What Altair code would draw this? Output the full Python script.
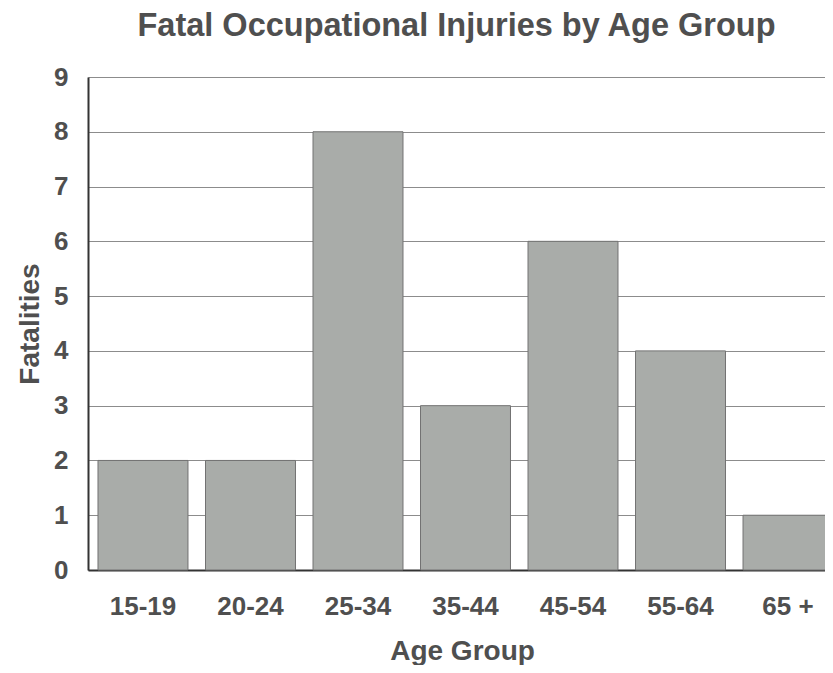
import altair as alt
import pandas as pd

age_groups = ["15-19", "20-24", "25-34", "35-44", "45-54", "55-64", "65 +"]
fatalities = [2, 2, 8, 3, 6, 4, 1]

df = pd.DataFrame({"Age Group": age_groups, "Fatalities": fatalities})

FONT = "Liberation Sans"
TXT = "#4f4f4f"

bars = alt.Chart(df).mark_bar(
    color="#a9aca9", stroke="#727272", strokeWidth=1
).encode(
    x=alt.X(
        "Age Group:N",
        sort=age_groups,
        scale=alt.Scale(paddingInner=0.163, paddingOuter=0.093, range=[0, 755]),
        axis=alt.Axis(
            title="Age Group", labelAngle=0, ticks=False, grid=False,
            labelFont=FONT, labelFontSize=26, labelFontWeight="bold", labelColor=TXT,
            labelPadding=23, titleFont=FONT, titleFontSize=28, titleFontWeight="bold",
            titleColor=TXT, titlePadding=18, titleX=374, titleAlign="center",
            domainColor="#333333", domainWidth=2,
        ),
    ),
    y=alt.Y(
        "Fatalities:Q",
        scale=alt.Scale(domain=[0, 9], nice=False),
        axis=alt.Axis(
            title="Fatalities", values=list(range(10)), ticks=False, grid=True,
            gridColor="#8c8c8c", gridWidth=1,
            labelFont=FONT, labelFontSize=26, labelFontWeight="bold", labelColor=TXT,
            labelPadding=20, titleFont=FONT, titleFontSize=28, titleFontWeight="bold",
            titleColor=TXT, titlePadding=9, domainColor="#333333", domainWidth=2,
        ),
    ),
)

chart = bars.properties(
    width=737,
    height=493,
    autosize=alt.AutoSizeParams(type="none"),
    padding={"left": 80, "top": 69, "right": 0, "bottom": 95},
    title=alt.TitleParams(
        "Fatal Occupational Injuries by Age Group",
        font=FONT, fontSize=32.5, fontWeight="bold", color=TXT,
        anchor="middle", offset=22,
    ),
).configure_view(stroke=None).configure(background="white")

chart.save("out.html", embed_options={"renderer": "svg", "actions": False})
